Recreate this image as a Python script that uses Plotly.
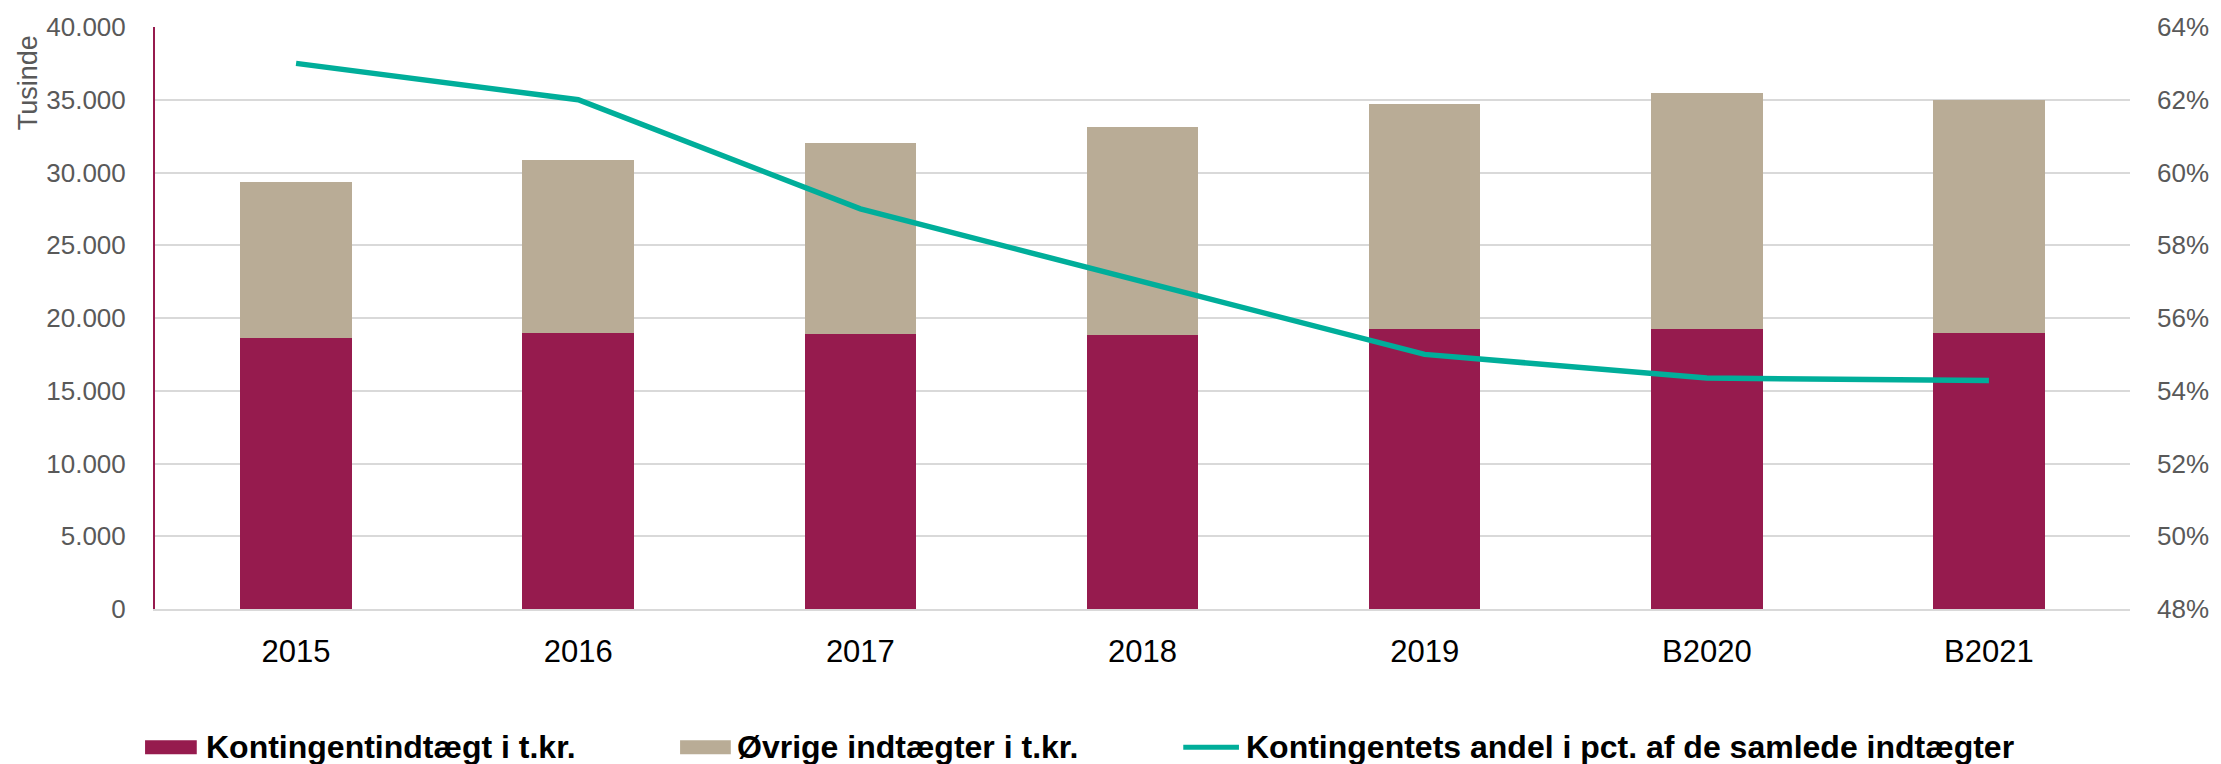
import plotly.graph_objects as go

# ---- data ----
categories = ["2015", "2016", "2017", "2018", "2019", "B2020", "B2021"]
kontingent = [18620, 18960, 18900, 18810, 19230, 19240, 18950]
ovrige = [10720, 11900, 13140, 14340, 15500, 16210, 16000]
andel = [0.630, 0.620, 0.590, 0.570, 0.550, 0.5435, 0.5428]

series_names = [
    "Kontingentindtægt i t.kr.",
    "Øvrige indtægter i t.kr.",
    "Kontingentets andel i pct. af de samlede indtægter",
]
y_title = "Tusinde"

# ---- styles ----
RED = "#961B4E"
BEIGE = "#B9AC96"
TEAL = "#00AE9A"
GRID = "#D9D9D9"
TICKGREY = "#595959"
FONT = "Liberation Sans, Arial, sans-serif"

W, H = 2221, 764
ML, MR, MT, MB = 155, 80, 24, 155
PW, PH = W - ML - MR, H - MT - MB


def px(x):
    return (x - ML) / PW


def py(y):
    return (H - MB - y) / PH


fig = go.Figure()
fig.add_trace(go.Bar(x=categories, y=kontingent, name=series_names[0],
                     marker=dict(color=RED, line=dict(width=0)), showlegend=False))
fig.add_trace(go.Bar(x=categories, y=ovrige, name=series_names[1],
                     marker=dict(color=BEIGE, line=dict(width=0)), showlegend=False))
fig.add_trace(go.Scatter(x=categories, y=andel, name=series_names[2], yaxis="y2",
                         mode="lines", line=dict(color=TEAL, width=5.5),
                         showlegend=False, cliponaxis=False))

fig.update_layout(
    width=W, height=H,
    margin=dict(l=ML, r=MR, t=MT, b=MB, pad=0),
    paper_bgcolor="white", plot_bgcolor="white",
    barmode="stack", bargap=0.605,
    separators=",.",
    font=dict(family=FONT, color=TICKGREY),
    xaxis=dict(type="category", showgrid=False, showline=True, linecolor=GRID,
               linewidth=1.5, ticks="", tickfont=dict(size=31, color="black"),
               ticklabelstandoff=14),
    yaxis=dict(range=[0, 40000], dtick=5000, tickformat=",d", showgrid=True,
               gridcolor=GRID, gridwidth=1.5, showline=True, linecolor=RED,
               linewidth=2, zeroline=False, ticks="",
               tickfont=dict(size=26, color=TICKGREY), ticklabelstandoff=22),
    yaxis2=dict(overlaying="y", side="right", range=[0.48, 0.64], dtick=0.02,
                tickformat=".0%", showgrid=False, zeroline=False, showline=False,
                ticks="", tickfont=dict(size=26, color=TICKGREY),
                ticklabelstandoff=26),
    showlegend=False,
)

annotations = [
    dict(text=y_title, textangle=-90, x=px(28), y=py(30), xref="paper", yref="paper",
         xanchor="center", yanchor="top", showarrow=False,
         font=dict(size=27, color=TICKGREY, family=FONT)),
]
shapes = []

# manual legend
leg_y = 748
legend_items = [
    ("rect", RED, 145, 197, 204, series_names[0]),
    ("rect", BEIGE, 683, 734, 738, series_names[1]),
    ("line", TEAL, 1189, 1245, 1250, series_names[2]),
]
for kind, col, x0, x1, xt, label in legend_items:
    if kind == "rect":
        shapes.append(dict(type="rect", xref="paper", yref="paper",
                           x0=px(x0), x1=px(x1), y0=py(leg_y + 7), y1=py(leg_y - 7),
                           fillcolor=col, line=dict(width=0)))
    else:
        shapes.append(dict(type="line", xref="paper", yref="paper",
                           x0=px(x0), x1=px(x1), y0=py(leg_y), y1=py(leg_y),
                           line=dict(color=col, width=5)))
    annotations.append(dict(text="<b>" + label + "</b>", x=px(xt), y=py(leg_y),
                            xref="paper", yref="paper", xanchor="left",
                            yanchor="middle", showarrow=False,
                            font=dict(size=32, color="black", family=FONT)))

fig.update_layout(annotations=annotations, shapes=shapes)
fig.write_html(
    "out.html",
    config={"displayModeBar": False},
    post_script="document.body.style.margin='0';document.body.style.overflow='hidden';",
)
